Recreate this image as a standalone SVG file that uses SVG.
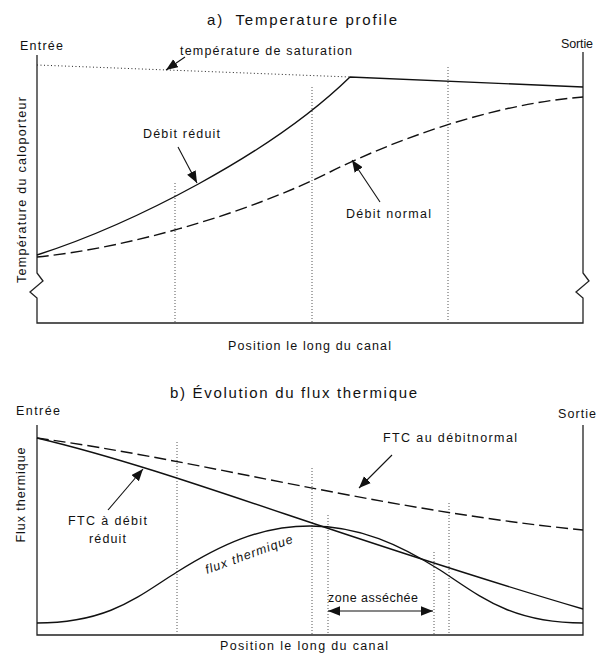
<svg xmlns="http://www.w3.org/2000/svg" width="599" height="653" viewBox="0 0 599 653">
  <style>
    text { font-family: "Liberation Sans", Arial, sans-serif; font-size: 12.5px; fill: #111; }
    .title { font-size: 15px; }
    .axis { fill: none; stroke: #222; stroke-width: 1.3; }
    .curve { fill: none; stroke: #111; stroke-width: 1.4; }
    .dash { stroke-dasharray: 12 5; }
    .guide { fill: none; stroke: #555; stroke-width: 1; stroke-dasharray: 1 2; }
    .sat { fill: none; stroke: #222; stroke-width: 1; stroke-dasharray: 1 2.5; }
    .pointer { fill: none; stroke: #111; stroke-width: 1.1; marker-end: url(#head); }
  </style>
  <defs>
    <marker id="head" viewBox="0 0 10 8" refX="10" refY="4" markerWidth="12" markerHeight="10" markerUnits="userSpaceOnUse" orient="auto-start-reverse">
      <path d="M0,0 L10,4 L0,8 z" fill="#111"/>
    </marker>
  </defs>

  <!-- Panel a: coolant temperature along the channel -->
  <g id="panel-a">
    <text id="title-a" class="title" x="207" y="25" textLength="190" lengthAdjust="spacing" xml:space="preserve">a)  Temperature profile</text>
    <g id="axes-a">
      <path class="axis" d="M37,55 V273 L43,281 L30,292 L37,298 V323 H583 V298 L576,292 L589,281 L583,273 V52"/>
    </g>
    <g id="guides-a">
      <line class="guide" x1="175" y1="183" x2="175" y2="323"/>
      <line class="guide" x1="312" y1="87" x2="312" y2="323"/>
      <line class="guide" x1="448" y1="67" x2="448" y2="323"/>
    </g>
    <g id="curves-a">
      <path id="saturation" class="sat" d="M37,65 L350,77"/>
      <path id="reduced-flow" class="curve" d="M37,255 C130,225 270,155 350,77 L583,87"/>
      <path id="normal-flow" class="curve dash" d="M37,257 C130,248 250,212 330,172 C390,142 490,104 583,97"/>
    </g>
    <g id="label-inlet-a"><text x="20" y="50" textLength="43" lengthAdjust="spacing">Entrée</text></g>
    <g id="label-outlet-a"><text x="561" y="48" textLength="32" lengthAdjust="spacing">Sortie</text></g>
    <g id="label-saturation"><text x="180" y="55" textLength="172" lengthAdjust="spacing">température de saturation</text></g>
    <g id="label-reduced"><text x="143" y="138" textLength="77" lengthAdjust="spacing">Débit réduit</text></g>
    <g id="label-normal"><text x="346" y="218" textLength="85" lengthAdjust="spacing">Débit normal</text></g>
    <g id="label-y-a"><text transform="translate(26,190) rotate(-90)" text-anchor="middle" textLength="186" lengthAdjust="spacing">Température du caloporteur</text></g>
    <g id="label-x-a"><text x="228" y="350" textLength="163" lengthAdjust="spacing">Position le long du canal</text></g>
  </g>

  <!-- Panel b: heat flux along the channel -->
  <g id="panel-b">
    <text id="title-b" class="title" x="170" y="398" textLength="247" lengthAdjust="spacing">b) Évolution du flux thermique</text>
    <g id="axes-b">
      <path class="axis" d="M37,425 V635 H583 V425"/>
    </g>
    <g id="guides-b">
      <line class="guide" x1="177" y1="442" x2="177" y2="635"/>
      <line class="guide" x1="312" y1="468" x2="312" y2="635"/>
      <line class="guide" x1="328" y1="515" x2="328" y2="635"/>
      <line class="guide" x1="434" y1="552" x2="434" y2="635"/>
      <line class="guide" x1="449" y1="503" x2="449" y2="635"/>
    </g>
    <g id="curves-b">
      <path id="chf-normal" class="curve dash" d="M37,438 C200,460 380,510 583,530"/>
      <path id="chf-reduced" class="curve" d="M37,438 C180,472 330,535 583,609"/>
      <path id="heat-flux" class="curve" d="M37,623 C110,623 140,595 177,572 C220,545 260,526 310,526 C360,526 400,545 440,570 C480,596 510,623 583,623"/>
    </g>
    <g id="label-inlet-b"><text x="16" y="415" textLength="44" lengthAdjust="spacing">Entrée</text></g>
    <g id="label-outlet-b"><text x="558" y="418" textLength="38" lengthAdjust="spacing">Sortie</text></g>
    <g id="label-chf-normal"><text x="383" y="442" textLength="134" lengthAdjust="spacing">FTC au débitnormal</text></g>
    <g id="label-chf-reduced">
      <text x="68" y="525" textLength="79" lengthAdjust="spacing">FTC à débit</text>
      <text x="89" y="543" textLength="37" lengthAdjust="spacing">réduit</text>
    </g>
    <g id="label-heat-flux"><text transform="translate(207,574) rotate(-20)" font-style="italic" textLength="92" lengthAdjust="spacing">flux thermique</text></g>
    <g id="label-dryout"><text x="328" y="602" textLength="90" lengthAdjust="spacing">zone asséchée</text></g>
    <g id="label-y-b"><text transform="translate(25,495) rotate(-90)" text-anchor="middle" textLength="95" lengthAdjust="spacing">Flux thermique</text></g>
    <g id="label-x-b"><text x="220" y="650" textLength="168" lengthAdjust="spacing">Position le long du canal</text></g>
  </g>

  <!-- Pointer arrows from labels to curves -->
  <g id="connectors">
    <path class="pointer" d="M185,57 L166,70"/>
    <path class="pointer" d="M178,147 L197,183"/>
    <path class="pointer" d="M380,202 L352,160"/>
    <path class="pointer" d="M108,510 L143,469"/>
    <path class="pointer" d="M392,455 L359,488"/>
    <path class="pointer" d="M328,611 L433,611" style="marker-start:url(#head)"/>
  </g>
</svg>
